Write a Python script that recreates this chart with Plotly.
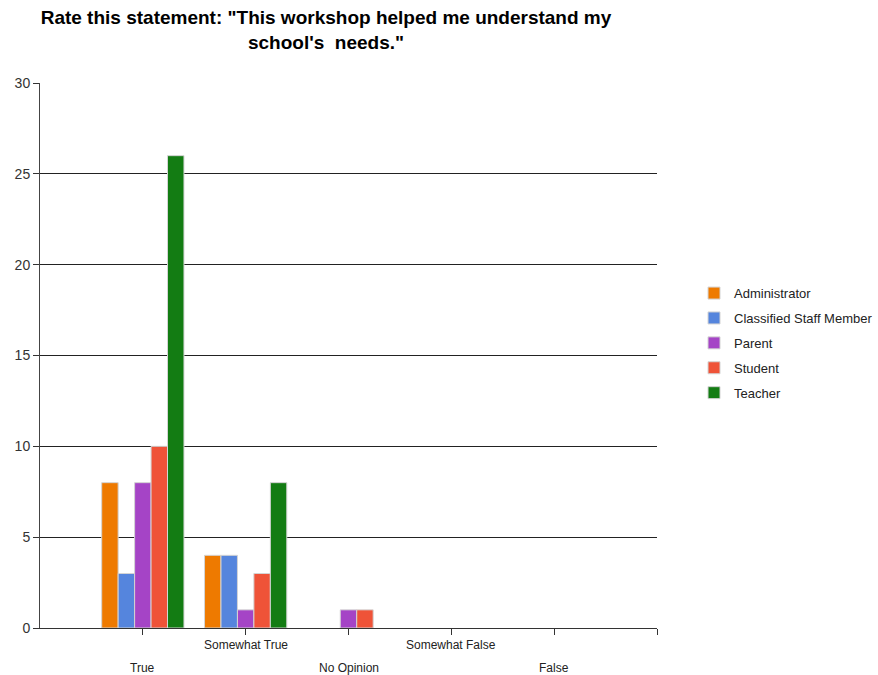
import plotly.graph_objects as go

categories = ["True", "Somewhat True", "No Opinion", "Somewhat False", "False"]
series_names = ["Administrator", "Classified Staff Member", "Parent", "Student", "Teacher"]
administrator = [8, 4, 0, 0, 0]
classified = [3, 4, 0, 0, 0]
parent = [8, 1, 1, 0, 0]
student = [10, 3, 1, 0, 0]
teacher = [26, 8, 0, 0, 0]
colors = ["#EE7A00", "#5585DD", "#A544C6", "#EF5338", "#137C13"]
y_ticks = [0, 5, 10, 15, 20, 25, 30]

values = [administrator, classified, parent, student, teacher]
xs = list(range(len(categories)))

fig = go.Figure()
for i, (name, vals) in enumerate(zip(series_names, values)):
    fig.add_trace(go.Bar(
        x=xs, y=vals, name=name, legendgroup=name,
        marker=dict(color=colors[i],
                    line=dict(color="#D4D4D4", width=[1 if v > 0 else 0 for v in vals])),
    ))

# staggered category labels
for i, c in enumerate(categories):
    fig.add_annotation(x=i, y=0, xref="x", yref="y", text=c, showarrow=False,
                       yanchor="top", yshift=-8 if i % 2 == 1 else -31,
                       font=dict(family="Liberation Sans, Arial", size=12, color="#222"))

fig.update_layout(
    width=878, height=675,
    paper_bgcolor="white", plot_bgcolor="white",
    margin=dict(l=40, r=221, t=83, b=47, autoexpand=False),
    barmode="group", bargap=0.2, bargroupgap=0.0,
    title=dict(text='Rate this statement: "This workshop helped me understand my<br>school\'s  needs."',
               x=326/878, xanchor="center", y=1 - 24/675, yanchor="top",
               font=dict(family="Liberation Sans, Arial", size=19, color="black", weight="bold")),
    font=dict(family="Liberation Sans, Arial", size=12, color="#222"),
    legend=dict(x=1.06, y=0.642, xanchor="left", yanchor="top", tracegroupgap=5,
                font=dict(size=13, color="#222"), traceorder="grouped"),
    showlegend=True,
)
fig.update_xaxes(range=[-1, 5], tickvals=[0, 1, 2, 3, 4, 5], ticktext=[""] * 6,
                 ticks="outside", ticklen=6, tickcolor="#333", showgrid=False,
                 showline=True, linecolor="#333", linewidth=1, zeroline=False, fixedrange=True)
fig.update_yaxes(range=[0, 30], tickvals=y_ticks, ticks="outside", ticklen=6, tickcolor="#333",
                 showgrid=True, gridcolor="#222", gridwidth=1, showline=True, linecolor="#444",
                 linewidth=1, zeroline=False, tickfont=dict(size=14, color="#333"))

fig.write_html("out.html", config={"displayModeBar": False},
               post_script="document.body.style.margin='0';")
